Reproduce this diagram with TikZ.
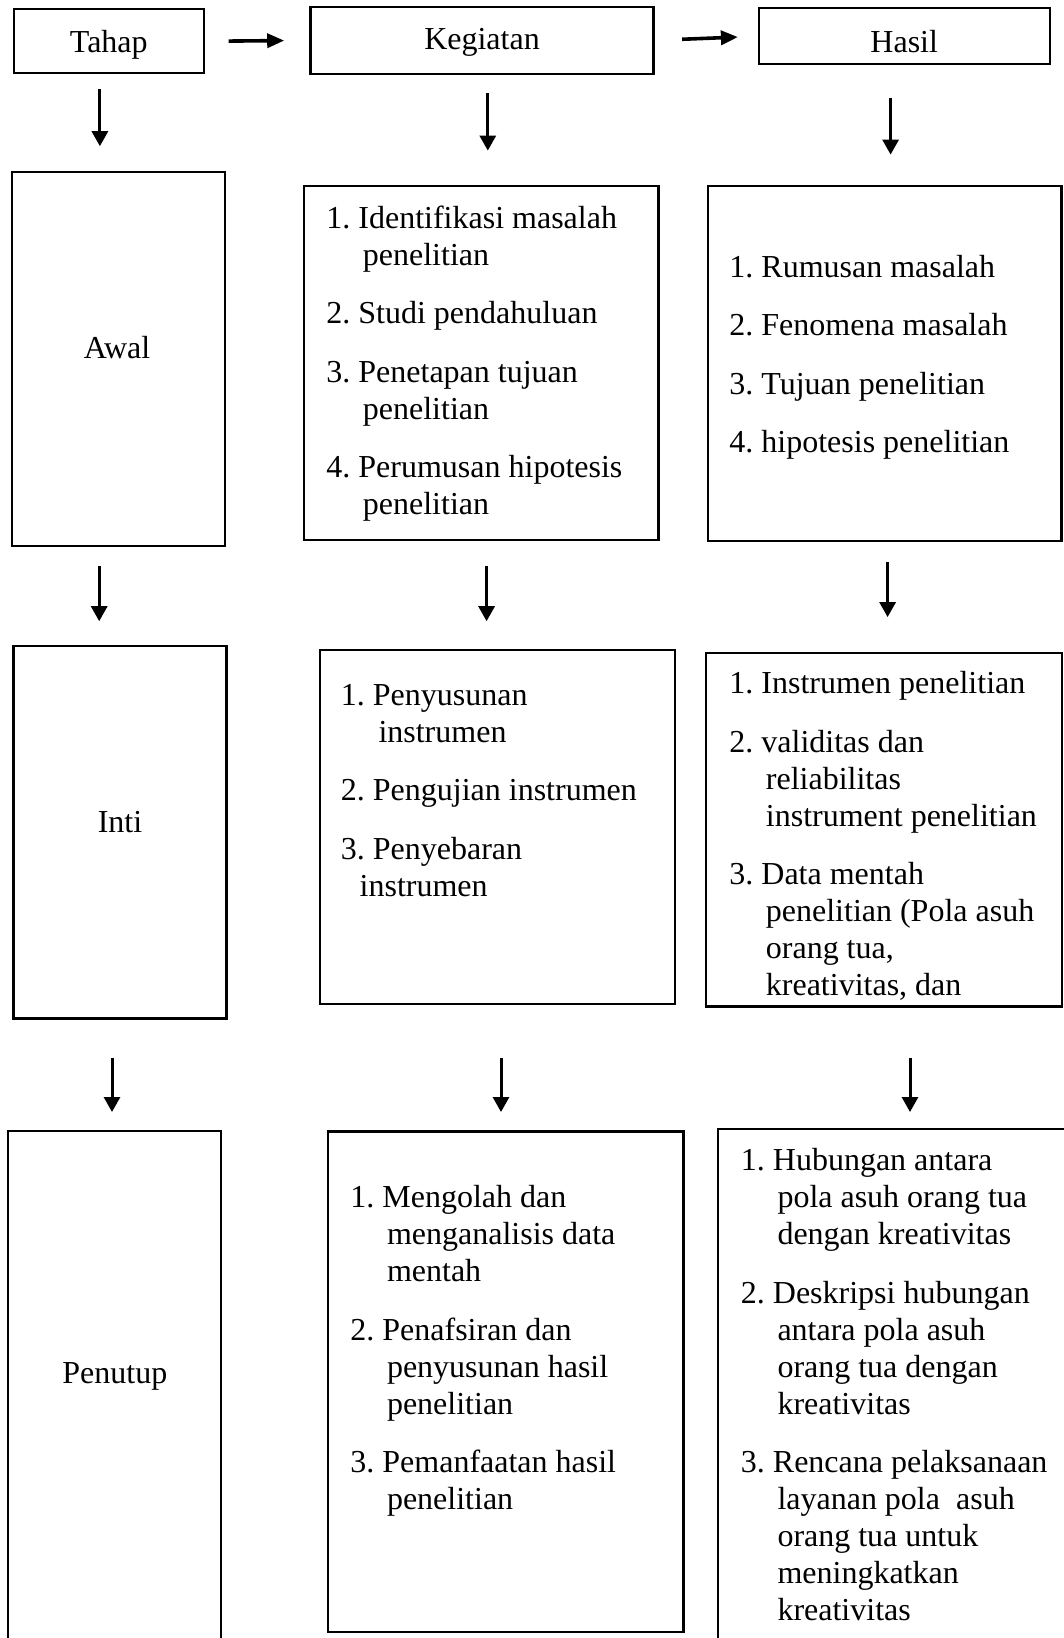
\documentclass[tikz,border=0pt]{standalone}
\usepackage{fontspec}
\setmainfont{Liberation Serif}
\frenchspacing
\usetikzlibrary{arrows.meta,fit}

\begin{document}
\begin{tikzpicture}[x=0.5pt, y=-0.5pt,
    font=\fontsize{16pt}{18.5pt}\selectfont,
    kotak/.style={draw, line width=1.1pt, inner sep=0pt},
    isi/.style={anchor=north west, inner sep=0pt, align=left},
    judul/.style={inner sep=0pt},
    panah/.style 2 args={line width=1.5pt, -{Triangle[width=8pt,length=7.5pt]}, shorten <=#1, shorten >=#2},
    panahkanan/.style 2 args={line width=1.8pt, -{Triangle[width=7pt,length=8.5pt]}, shorten <=#1, shorten >=#2}]

    \clip (0,0) rectangle (1064,1638);

    % --- Baris judul ---
    \node[kotak, fit={(13.6,9.3) (204,73.3)}] (tahap) {};
    \node[judul, yshift=-2pt] (tahaptxt) at (tahap.center) {Tahap};
    \node[kotak, fit={(310.5,6.7) (653.5,74)}] (kegiatan) {};
    \node[judul, yshift=-1pt] (kegiatantxt) at (kegiatan.center) {Kegiatan};
    \node[kotak, fit={(758.8,8.3) (1049.6,64.3)}] (hasil) {};
    \node[judul, yshift=-2.5pt] (hasiltxt) at (hasil.center) {Hasil};

    \draw[panahkanan={11.8pt}{12.6pt}] (tahap.east) -- (kegiatan.west);
    \draw[panahkanan={13.75pt}{9.9pt}] (kegiatan.east) -- (hasil.west);

    % --- Tahap awal ---
    \node[kotak, fit={(11.8,172.3) (225,545.7)}] (awal) {};
    \node[judul] (awaltxt) at (117,347.7) {Awal};

    \node[kotak, fit={(304,186) (658.5,540)}] (kawal) {};
    \node[isi] (kawaltxt) at (326,201.8) {\strut 1. Identifikasi masalah\\
        \hspace*{18.25pt}penelitian\\[10.75pt]
        2. Studi pendahuluan\\[10.75pt]
        3. Penetapan tujuan\\
        \hspace*{18.25pt}penelitian\\[10.75pt]
        4. Perumusan hipotesis\\
        \hspace*{18.25pt}penelitian};

    \node[kotak, fit={(708,186) (1061.5,540.7)}] (hawal) {};
    \node[isi] (hawaltxt) at (729,250.9) {\strut 1. Rumusan masalah\\[10.75pt]
        2. Fenomena masalah\\[10.75pt]
        3. Tujuan penelitian\\[10.75pt]
        4. hipotesis penelitian};

    % --- Tahap inti ---
    \node[kotak, fit={(13.5,646) (226.5,1018.5)}] (inti) {};
    \node[judul] (intitxt) at (120,821.8) {Inti};

    \node[kotak, fit={(320,650) (675,1004)}] (kinti) {};
    \node[isi] (kintitxt) at (340.5,679) {\strut 1. Penyusunan\\
        \hspace*{18.8pt}instrumen\\[10.75pt]
        2. Pengujian instrumen\\[10.75pt]
        3. Penyebaran\\
        \hspace*{9.4pt}instrumen};

    \node[kotak, fit={(706,652.7) (1062,1006.5)}] (hinti) {};
    \node[isi] (hintitxt) at (729,667.5) {\strut 1. Instrumen penelitian\\[10.75pt]
        2. validitas dan\\
        \hspace*{18.25pt}reliabilitas\\
        \hspace*{18.25pt}instrument penelitian\\[10.75pt]
        3. Data mentah\\
        \hspace*{18.25pt}penelitian (Pola asuh\\
        \hspace*{18.25pt}orang tua,\\
        \hspace*{18.25pt}kreativitas, dan};

    % --- Tahap penutup ---
    \node[kotak, fit={(8,1130.7) (221.3,1700)}] (penutup) {};
    \node[judul] (penutuptxt) at (114.9,1376.3) {Penutup};

    \node[kotak, fit={(328,1131.5) (683.5,1631.7)}] (kpenutup) {};
    \node[isi] (kpenutuptxt) at (350,1181.2) {\strut 1. Mengolah dan\\
        \hspace*{18.3pt}menganalisis data\\
        \hspace*{18.3pt}mentah\\[10.75pt]
        2. Penafsiran dan\\
        \hspace*{18.3pt}penyusunan hasil\\
        \hspace*{18.3pt}penelitian\\[10.75pt]
        3. Pemanfaatan hasil\\
        \hspace*{18.3pt}penelitian};

    \node[kotak, fit={(718,1129) (1100,1700)}] (hpenutup) {};
    \node[isi] (hpenutuptxt) at (740.5,1144.6) {\strut 1. Hubungan antara\\
        \hspace*{18.3pt}pola asuh orang tua\\
        \hspace*{18.3pt}dengan kreativitas\\[10.75pt]
        2. Deskripsi hubungan\\
        \hspace*{18.3pt}antara pola asuh\\
        \hspace*{18.3pt}orang tua dengan\\
        \hspace*{18.3pt}kreativitas\\[10.75pt]
        3. Rencana pelaksanaan\\
        \hspace*{18.3pt}layanan pola\ \ asuh\\
        \hspace*{18.3pt}orang tua untuk\\
        \hspace*{18.3pt}meningkatkan\\
        \hspace*{18.3pt}kreativitas};

    % --- Panah ke bawah ---
    \coordinate (xa1) at (99.9,0);
    \coordinate (xb1) at (487.8,0);
    \coordinate (xc1) at (890.6,0);
    \coordinate (xa2) at (99.2,0);
    \coordinate (xb2) at (486.6,0);
    \coordinate (xc2) at (887.6,0);
    \coordinate (xa3) at (112,0);
    \coordinate (xb3) at (501,0);
    \coordinate (xc3) at (910,0);

    \draw[panah={7.5pt}{12.5pt}] (tahap.south -| xa1) -- (awal.north -| xa1);
    \draw[panah={9.15pt}{17.15pt}] (kegiatan.south -| xb1) -- (kawal.north -| xb1);
    \draw[panah={16.2pt}{15.15pt}] (hasil.south -| xc1) -- (hawal.north -| xc1);

    \draw[panah={9.65pt}{11.85pt}] (awal.south -| xa2) -- (inti.north -| xa2);
    \draw[panah={12.5pt}{13.85pt}] (kawal.south -| xb2) -- (kinti.north -| xb2);
    \draw[panah={10pt}{17.25pt}] (hawal.south -| xc2) -- (hinti.north -| xc2);

    \draw[panah={19.25pt}{8.8pt}] (inti.south -| xa3) -- (penutup.north -| xa3);
    \draw[panah={26.35pt}{9.2pt}] (kinti.south -| xb3) -- (kpenutup.north -| xb3);
    \draw[panah={25.1pt}{7.95pt}] (hinti.south -| xc3) -- (hpenutup.north -| xc3);

\end{tikzpicture}
\end{document}
